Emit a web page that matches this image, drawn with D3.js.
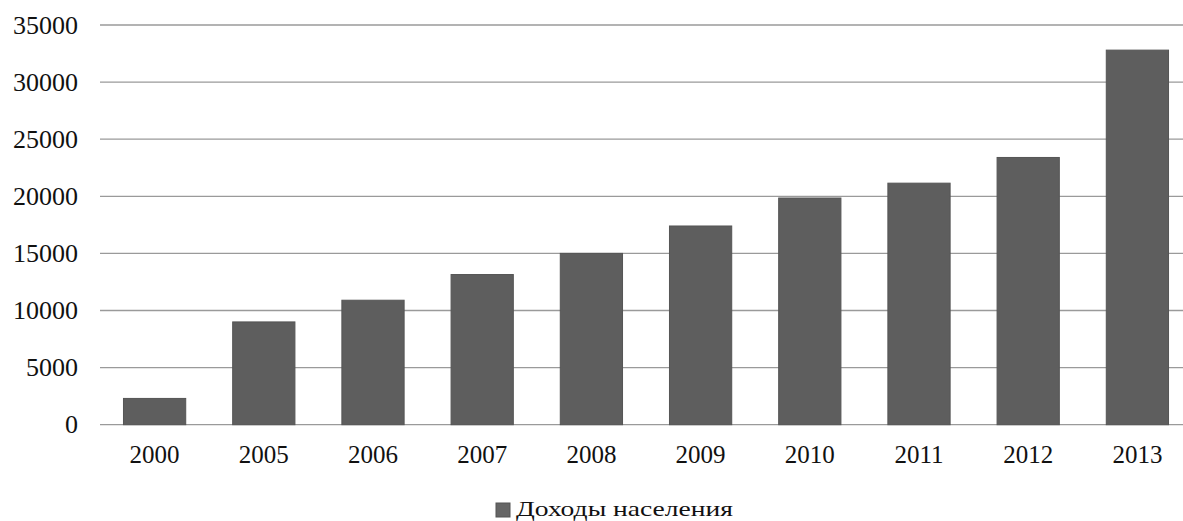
<!DOCTYPE html>
<html>
<head>
<meta charset="utf-8">
<script src="https://cdn.jsdelivr.net/npm/d3@7"></script>
<style>
  body { margin: 0; background: #fff; }
</style>
</head>
<body>
<div id="chart"></div>
<script>
// years and incomes
const years = ["2000", "2005", "2006", "2007", "2008", "2009", "2010", "2011", "2012", "2013"]
const incomes = [2300, 9000, 10900, 13150, 15000, 17400, 19850, 21150, 23400, 32800]
const yTicks = [0, 5000, 10000, 15000, 20000, 25000, 30000, 35000]
const seriesName = "Доходы населения"

const data = years.map((y, i) => ({ year: y, value: incomes[i] }))

var width = 1183
var height = 521
var serif = "'Liberation Serif', 'Times New Roman', Times, 'DejaVu Serif', serif"

var svg = d3.select("#chart")
    .append("svg")
    .attr("width", width)
    .attr("height", height)
    .attr("font-family", serif)

var x = d3.scaleBand()
    .domain(years)
    .range([100, 1192])
    .paddingInner(0.43)
    .paddingOuter(0.215)

var y = d3.scaleLinear()
    .domain([0, 35000])
    .range([424.7, 25])

// grid
svg.append("g")
    .selectAll("line")
    .data(yTicks)
    .enter()
    .append("line")
    .attr("x1", 100)
    .attr("x2", width)
    .attr("y1", d => y(d))
    .attr("y2", d => y(d))
    .attr("stroke", "#9a9a9a")
    .attr("stroke-width", 1.3)

// y labels
svg.append("g")
    .selectAll("text")
    .data(yTicks)
    .enter()
    .append("text")
    .attr("x", 78)
    .attr("y", d => y(d))
    .attr("dy", "0.33em")
    .attr("text-anchor", "end")
    .attr("fill", "#111")
    .style("font-size", "26px")
    .text(d => d)

// bars
svg.append("g")
    .selectAll("rect")
    .data(data)
    .enter()
    .append("rect")
    .attr("x", d => x(d.year))
    .attr("y", d => y(d.value))
    .attr("width", x.bandwidth())
    .attr("height", d => y(0) - y(d.value))
    .attr("fill", "#5e5e5e")
    .attr("stroke", "#555")
    .attr("stroke-width", 1)

// x labels
svg.append("g")
    .selectAll("text")
    .data(years)
    .enter()
    .append("text")
    .attr("x", d => x(d) + x.bandwidth() / 2)
    .attr("y", 463)
    .attr("text-anchor", "middle")
    .attr("fill", "#111")
    .style("font-size", "25px")
    .text(d => d)

// legend
var legend = svg.append("g").attr("transform", "translate(496,503)")
legend.append("rect")
    .attr("width", 14)
    .attr("height", 14)
    .attr("fill", "#666")
    .attr("stroke", "#555")
legend.append("text")
    .attr("x", 20)
    .attr("y", 13)
    .attr("fill", "#111")
    .attr("textLength", 217)
    .attr("lengthAdjust", "spacingAndGlyphs")
    .style("font-size", "22px")
    .text(seriesName)
</script>
</body>
</html>
